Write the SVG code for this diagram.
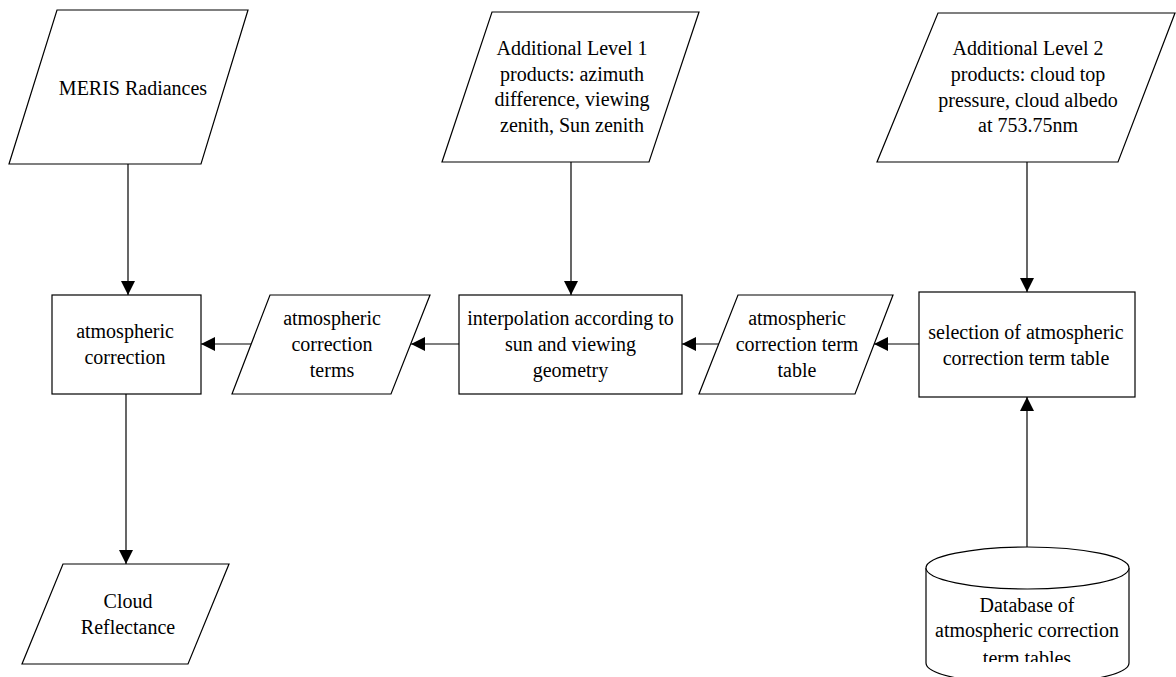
<svg xmlns="http://www.w3.org/2000/svg" width="1176" height="677" viewBox="0 0 1176 677">
<style>
.s{fill:#fff;stroke:#000;stroke-width:1.2}
.t{font-family:"Liberation Serif","Times New Roman",serif;font-size:20px;fill:#000;text-anchor:middle}
.c{stroke:#000;stroke-width:1.2;fill:none;marker-end:url(#ah)}
</style>
<defs>
<marker id="ah" markerUnits="userSpaceOnUse" markerWidth="15" markerHeight="15" refX="14" refY="7" orient="auto">
<path d="M0,0 L14,7 L0,14 z" fill="#000"/>
</marker>
<clipPath id="dbclip"><rect x="920" y="590" width="220" height="72"/></clipPath>
</defs>
<rect width="1176" height="677" fill="#fff"/>
<g id="connectors">
<line class="c" x1="128" y1="164" x2="128" y2="295"/>
<line class="c" x1="126" y1="394" x2="126" y2="564"/>
<line class="c" x1="251" y1="344" x2="201" y2="344"/>
<line class="c" x1="459" y1="344" x2="411" y2="344"/>
<line class="c" x1="571" y1="162" x2="571" y2="295"/>
<line class="c" x1="719" y1="344" x2="682" y2="344"/>
<line class="c" x1="919" y1="344" x2="874" y2="344"/>
<line class="c" x1="1027" y1="162" x2="1027" y2="292"/>
<line class="c" x1="1027" y1="547" x2="1027" y2="397"/>
</g>
<g id="meris">
<polygon class="s" points="57,10 248,10 201,164 9,164"/>
<text class="t" x="133" y="95">MERIS Radiances</text>
</g>
<g id="level1">
<polygon class="s" points="492,12 699,12 649,162 442,162"/>
<text class="t" x="572" y="55">Additional Level 1</text>
<text class="t" x="572" y="81">products: azimuth</text>
<text class="t" x="572" y="106">difference, viewing</text>
<text class="t" x="572" y="132">zenith, Sun zenith</text>
</g>
<g id="level2">
<polygon class="s" points="938,13 1175,13 1118,162 877,162"/>
<text class="t" x="1028" y="55">Additional Level 2</text>
<text class="t" x="1028" y="81">products: cloud top</text>
<text class="t" x="1028" y="107">pressure, cloud albedo</text>
<text class="t" x="1028" y="132">at 753.75nm</text>
</g>
<g id="atmcorr">
<rect class="s" x="52" y="295" width="149" height="99"/>
<text class="t" x="125" y="338">atmospheric</text>
<text class="t" x="125" y="364">correction</text>
</g>
<g id="terms">
<polygon class="s" points="270,295 430,295 391,394 232,394"/>
<text class="t" x="332" y="325">atmospheric</text>
<text class="t" x="332" y="351">correction</text>
<text class="t" x="332" y="377">terms</text>
</g>
<g id="interp">
<rect class="s" x="459" y="295" width="223" height="99"/>
<text class="t" x="570.5" y="325">interpolation according to</text>
<text class="t" x="570.5" y="351">sun and viewing</text>
<text class="t" x="570.5" y="377">geometry</text>
</g>
<g id="termtable">
<polygon class="s" points="738,295 893,295 855,394 699,394"/>
<text class="t" x="797" y="325">atmospheric</text>
<text class="t" x="797" y="351">correction term</text>
<text class="t" x="797" y="377">table</text>
</g>
<g id="selection">
<rect class="s" x="919" y="292" width="216" height="105"/>
<text class="t" x="1026" y="339">selection of atmospheric</text>
<text class="t" x="1026" y="365">correction term table</text>
</g>
<g id="cloudrefl">
<polygon class="s" points="63,564 229,564 188,664 22,664"/>
<text class="t" x="128" y="608">Cloud</text>
<text class="t" x="128" y="634">Reflectance</text>
</g>
<g id="database">
<path class="s" d="M926,568 L926,663 A101.5,21 0 0 0 1129,663 L1129,568"/>
<ellipse class="s" cx="1027.5" cy="568" rx="101.5" ry="21"/>
<text class="t" x="1027" y="612">Database of</text>
<text class="t" x="1027" y="637">atmospheric correction</text>
<text class="t" x="1027" y="665" clip-path="url(#dbclip)">term tables</text>
</g>
</svg>
